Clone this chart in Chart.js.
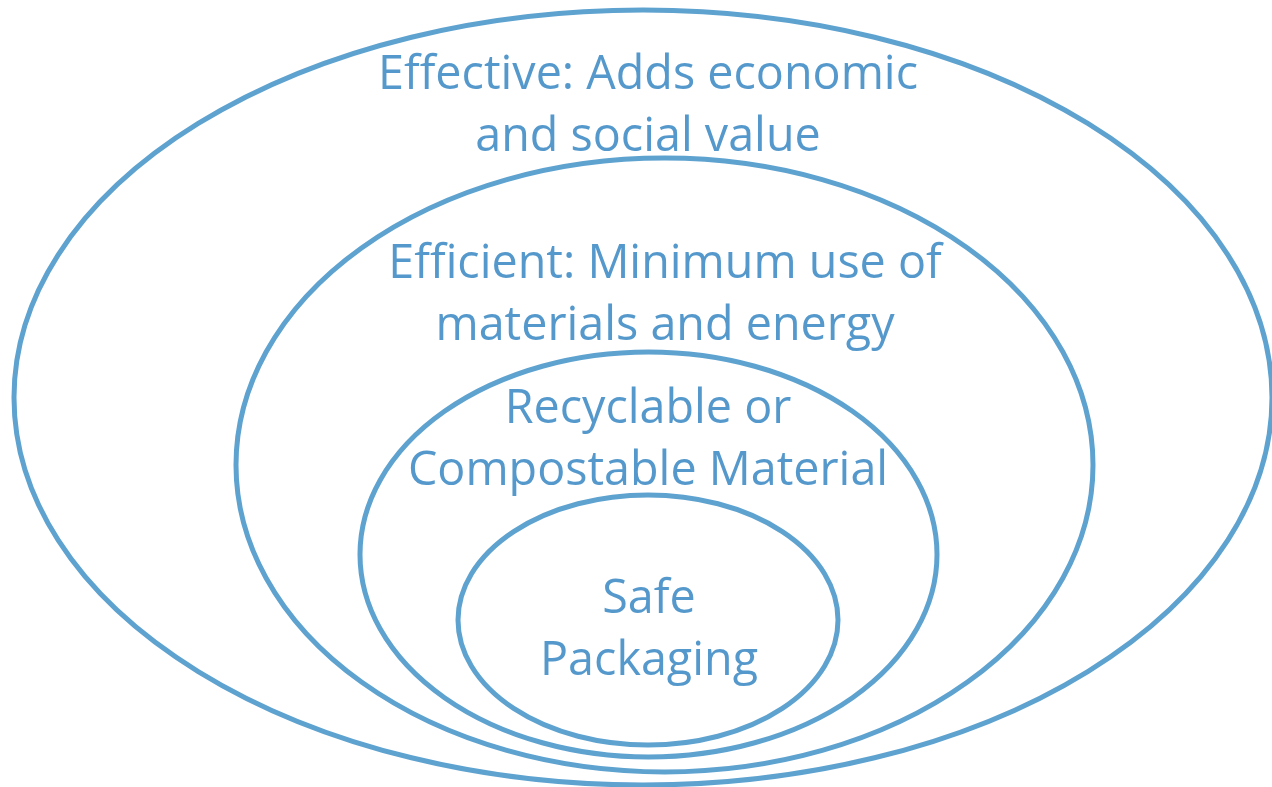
<!DOCTYPE html>
<html lang="en">
<head>
    <meta charset="UTF-8">
    <title>Sustainable Packaging</title>
    <style>
        body {
            margin: 0;
            padding: 0;
            background-color: #ffffff;
        }
        #wrap {
            width: 1272px;
            height: 787px;
        }
    </style>
    <script src="https://cdn.jsdelivr.net/npm/chart.js"></script>
</head>
<body>
    <div id="wrap">
        <canvas id="chartCanvas" width="1272" height="787"></canvas>
    </div>
    <script>
        // rings, outermost first (units are plot units on a 1272 x 787 grid)
        const rings = ['Effective', 'Efficient', 'Recyclable', 'Safe'];
        const centerX = [643, 664.5, 648.5, 648];
        const centerY = [397.5, 465, 554.5, 620];
        const radiusX = [629, 428.5, 288.5, 190];
        const radiusY = [387.5, 307, 202.5, 125];

        // text inside each ring
        const labelLines = [
            ['Effective: Adds economic', 'and social value'],
            ['Efficient: Minimum use of', 'materials and energy'],
            ['Recyclable or', 'Compostable Material'],
            ['Safe', 'Packaging']
        ];
        const labelX = [648, 665, 648, 649];
        const labelY = [[76, 138], [265, 327], [410, 472], [600, 662]];

        const blue = '#5ea2d0';
        const textBlue = '#5599cc';

        const ringPlugin = {
            id: 'rings',
            afterDatasetsDraw(chart) {
                const ctx = chart.ctx;
                const xs = chart.scales.x;
                const ys = chart.scales.y;
                ctx.save();
                ctx.strokeStyle = blue;
                ctx.lineWidth = 5;
                rings.forEach((name, i) => {
                    const cx = xs.getPixelForValue(centerX[i]);
                    const cy = ys.getPixelForValue(centerY[i]);
                    const rx = Math.abs(xs.getPixelForValue(centerX[i] + radiusX[i]) - cx);
                    const ry = Math.abs(ys.getPixelForValue(centerY[i] + radiusY[i]) - cy);
                    ctx.beginPath();
                    ctx.ellipse(cx, cy, rx, ry, 0, 0, Math.PI * 2);
                    ctx.stroke();
                });

                // text, squeezed a bit to look like Calibri
                ctx.font = '47px "Open Sans", sans-serif';
                ctx.fillStyle = textBlue;
                ctx.textAlign = 'center';
                ctx.textBaseline = 'middle';
                const squeeze = Math.min(1, 540 / ctx.measureText(labelLines[0][0]).width);
                labelLines.forEach((lines, i) => {
                    lines.forEach((line, j) => {
                        const px = xs.getPixelForValue(labelX[i]);
                        const py = ys.getPixelForValue(labelY[i][j]);
                        const w = ctx.measureText(line).width * squeeze;
                        ctx.fillText(line, px, py, w);
                    });
                });
                ctx.restore();
            }
        };

        new Chart(document.getElementById('chartCanvas'), {
            type: 'scatter',
            data: {
                datasets: [{
                    label: 'rings',
                    data: rings.map((r, i) => ({ x: centerX[i], y: centerY[i] })),
                    pointRadius: 0
                }]
            },
            options: {
                responsive: false,
                animation: false,
                layout: { padding: 0 },
                plugins: {
                    legend: { display: false },
                    tooltip: { enabled: false }
                },
                scales: {
                    x: { type: 'linear', min: 0, max: 1272, display: false },
                    y: { type: 'linear', min: 0, max: 787, reverse: true, display: false }
                }
            },
            plugins: [ringPlugin]
        });
    </script>
</body>
</html>
